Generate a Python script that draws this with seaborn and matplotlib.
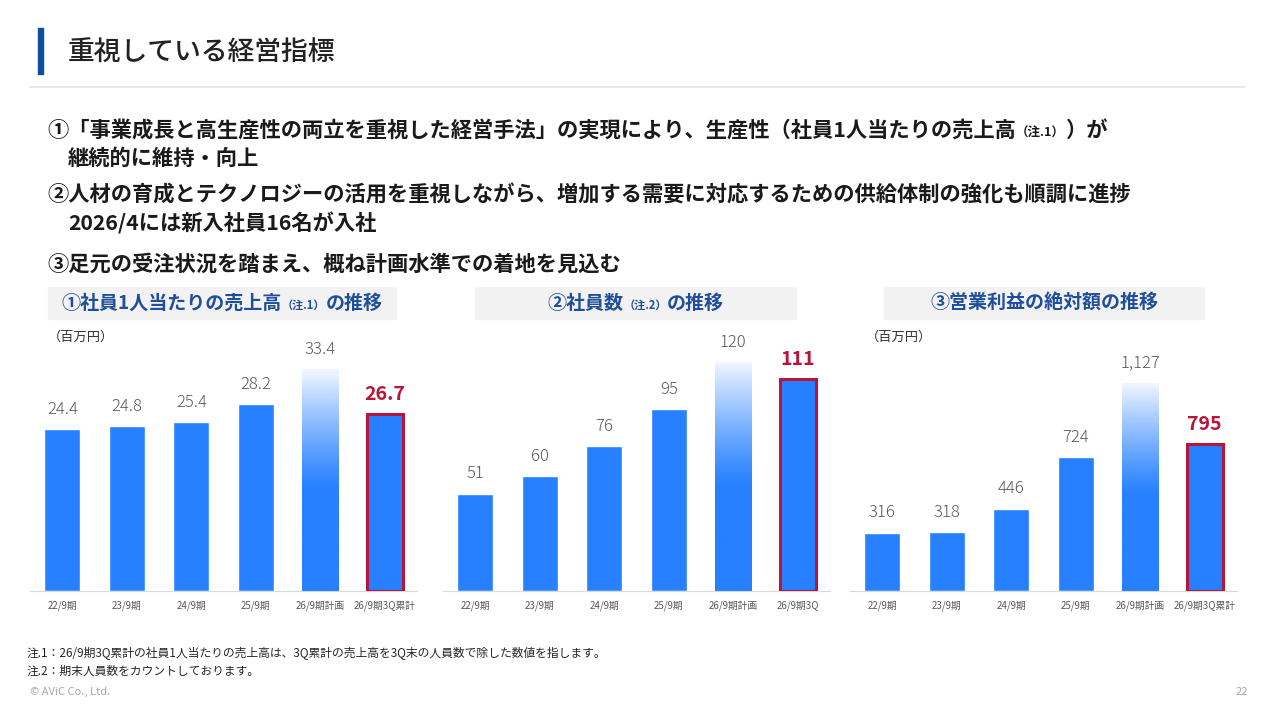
import numpy as np
import pandas as pd
import seaborn as sns
import matplotlib.pyplot as plt
from matplotlib.colors import to_rgb

sns.set_style("white")
plt.rcParams['font.family'] = ['Noto Sans CJK JP', 'DejaVu Sans']

# データ
periods = ["22/9期", "23/9期", "24/9期", "25/9期", "26/9期計画", "26/9期3Q累計"]
periods_staff = ["22/9期", "23/9期", "24/9期", "25/9期", "26/9期計画", "26/9期3Q"]
sales_per_head = [24.4, 24.8, 25.4, 28.2, 33.4, 26.7]
headcount = [51, 60, 76, 95, 120, 111]
op_profit = [316, 318, 446, 724, 1127, 795]

BLUE = "#2680FF"
RED = "#B8153B"
NAVY = "#1F4E9A"
GRAY = "#595959"

W, H = 1280, 720
fig = plt.figure(figsize=(12.8, 7.2), dpi=100)


def fx(px):
    return px / W


def fy(py):
    return 1 - py / H


def put_runs(x, y, runs, ha="left"):
    # runs: (text, size, color, weight) を横に並べる
    r = fig.canvas.get_renderer()
    objs = [fig.text(0, fy(y), s, fontsize=sz, color=c, fontweight=wt, va="baseline")
            for s, sz, c, wt in runs]
    widths = [t.get_window_extent(r).width for t in objs]
    start = x - (sum(widths) / 2 if ha == "center" else 0)
    for t, w in zip(objs, widths):
        t.set_x(fx(start))
        start += w


# タイトル
fig.patches.append(plt.Rectangle((fx(38), fy(74)), fx(5), 46 / H, color="#0B4EA2",
                                 transform=fig.transFigure))
fig.text(fx(68), fy(53), "重視している経営指標", fontsize=19.3, color="#222222",
         fontweight="medium", va="center")
fig.add_artist(plt.Line2D([fx(30), fx(1245)], [fy(87), fy(87)], color="#E3E3E3", lw=1.2))

# 本文
TXT = "#1A1A1A"
BS = 15.3
put_runs(47, 137, [("①「事業成長と高生産性の両立を重視した経営手法」の実現により、生産性（社員1人当たりの売上高", BS, TXT, "bold"),
                   ("（注.1）", 9, TXT, "bold"), ("）が", BS, TXT, "bold")])
put_runs(68, 165, [("継続的に維持・向上", BS, TXT, "bold")])
put_runs(47, 202, [("②人材の育成とテクノロジーの活用を重視しながら、増加する需要に対応するための供給体制の強化も順調に進捗", BS, TXT, "bold")])
put_runs(68, 231, [("2026/4には新入社員16名が入社", BS, TXT, "bold")])
put_runs(47, 271, [("③足元の受注状況を踏まえ、概ね計画水準での着地を見込む", BS, TXT, "bold")])

# グラフ
TS = 13.7
charts = [
    dict(left=30, right=417, cats=periods, vals=sales_per_head, ymax=39.3,
         box=(48, 396), title=[("①社員1人当たりの売上高", TS, NAVY, "bold"), ("（注.1）", 8, NAVY, "bold"),
                               ("の推移", TS, NAVY, "bold")],
         fmt="{:.1f}", unit=(48, 337)),
    dict(left=443, right=830, cats=periods_staff, vals=headcount, ymax=136.6,
         box=(475, 796), title=[("②社員数", TS, NAVY, "bold"), ("（注.2）", 8, NAVY, "bold"),
                               ("の推移", TS, NAVY, "bold")],
         fmt="{:.0f}", unit=None),
    dict(left=850, right=1237, cats=periods, vals=op_profit, ymax=1411,
         box=(884, 1204), title=[("③営業利益の絶対額の推移", TS, NAVY, "bold")],
         fmt="{:,.0f}", unit=(866, 337)),
]

top, base = 330, 591
for ch in charts:
    ax = fig.add_axes([fx(ch["left"]), fy(base), (ch["right"] - ch["left"]) / W, (base - top) / H])
    df = pd.DataFrame({"period": ch["cats"], "value": ch["vals"]})
    sns.barplot(data=df, x="period", y="value", color=BLUE, saturation=1, width=0.56, ax=ax)
    bars = ax.patches

    # 計画バーはグラデーション
    p = bars[4]
    x0, w, h = p.get_x(), p.get_width(), p.get_height()
    n = 256
    t = np.linspace(0, 1, n)  # 0=bottom, 1=top
    mix = np.clip((t - 0.45) / 0.55, 0, 1) ** 1.2
    b = np.array(to_rgb(BLUE))
    wht = np.array([0.95, 0.97, 1.0])
    grad = (b[None, :] * (1 - mix[:, None]) + wht[None, :] * mix[:, None])[:, None, :]
    im = ax.imshow(grad, extent=[x0, x0 + w, 0, h], origin="lower", aspect="auto", zorder=2)
    im.set_clip_path(p)
    p.set_facecolor("none")

    # 実績バーは赤枠
    q = bars[5]
    q.set_edgecolor(RED)
    q.set_linewidth(2.2)
    q.set_zorder(3)

    for i, (bar, v) in enumerate(zip(bars, ch["vals"])):
        xc = bar.get_x() + bar.get_width() / 2
        if i == 5:
            ax.annotate(ch["fmt"].format(v), (xc, v), xytext=(0, 7), textcoords="offset points",
                        ha="center", va="bottom", fontsize=14, fontweight="bold", color=RED)
        else:
            ax.annotate(ch["fmt"].format(v), (xc, v), xytext=(0, 8), textcoords="offset points",
                        ha="center", va="bottom", fontsize=12, fontweight="light", color=GRAY)

    ax.set_xlim(-0.5, 5.5)
    ax.set_ylim(0, ch["ymax"])
    ax.set_xlabel("")
    ax.set_ylabel("")
    ax.set_yticks([])
    ax.tick_params(axis="x", length=0, labelsize=7, labelcolor=GRAY, pad=7)
    for s in ["top", "left", "right"]:
        ax.spines[s].set_visible(False)
    ax.spines["bottom"].set_color("#D9D9D9")
    ax.set_facecolor("none")

    # 小見出しボックス
    bx0, bx1 = ch["box"]
    fig.patches.append(plt.Rectangle((fx(bx0), fy(319)), (bx1 - bx0) / W, 32 / H, color="#F2F2F2",
                                     transform=fig.transFigure, zorder=0))
    put_runs((bx0 + bx1) / 2, 309, ch["title"], ha="center")
    if ch["unit"]:
        fig.text(fx(ch["unit"][0]), fy(ch["unit"][1]), "（百万円）", fontsize=9.5, color="#333333",
                 va="center")

# 注記
fig.text(fx(27), fy(653), "注.1：26/9期3Q累計の社員1人当たりの売上高は、3Q累計の売上高を3Q末の人員数で除した数値を指します。",
         fontsize=8.5, color="#262626", va="center")
fig.text(fx(27), fy(671), "注.2：期末人員数をカウントしております。", fontsize=8.5, color="#262626", va="center")
fig.text(fx(30), fy(692), "© AViC Co., Ltd.", fontsize=8, color="#A6A6A6", va="center")
fig.text(fx(1248), fy(692), "22", fontsize=8, color="#A6A6A6", va="center", ha="right")

fig.savefig("out.png", dpi=100)
